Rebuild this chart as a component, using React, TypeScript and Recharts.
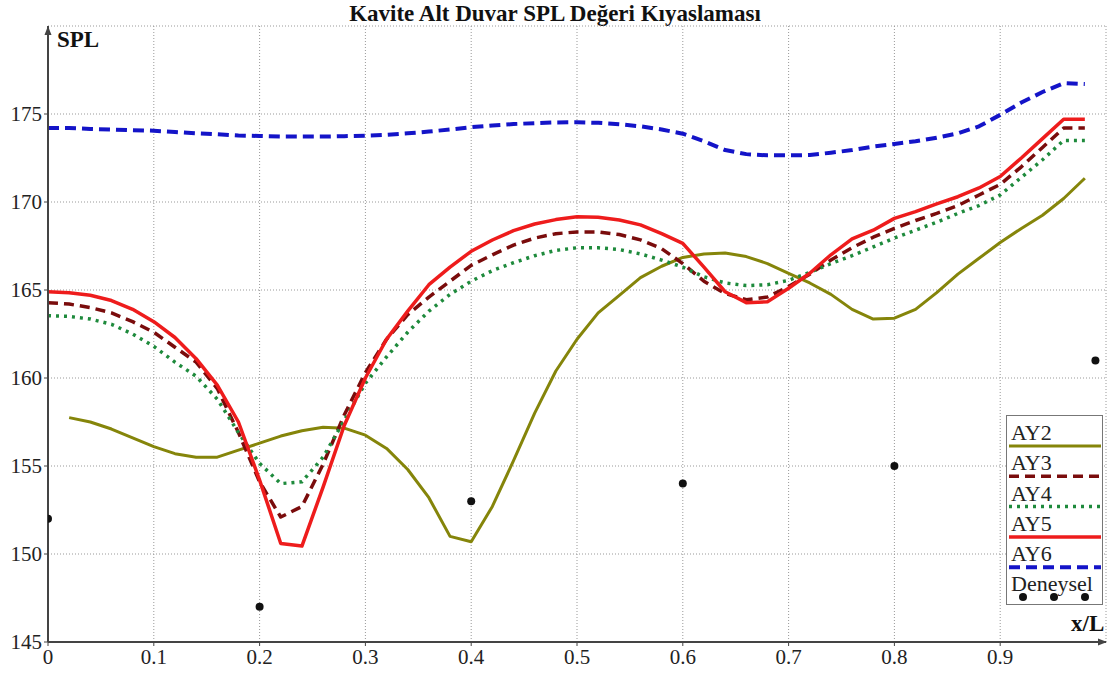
import { ComposedChart, Line, XAxis, YAxis, CartesianGrid, ReferenceDot } from "recharts"

// x/L sampling stations of the simulated profiles
const stations = [
  0, 0.02, 0.04, 0.06, 0.08, 0.1, 0.12, 0.14, 0.16, 0.18,
  0.2, 0.22, 0.24, 0.26, 0.28, 0.3, 0.32, 0.34, 0.36, 0.38,
  0.4, 0.42, 0.44, 0.46, 0.48, 0.5, 0.52, 0.54, 0.56, 0.58,
  0.6, 0.62, 0.64, 0.66, 0.68, 0.7, 0.72, 0.74, 0.76, 0.78,
  0.8, 0.82, 0.84, 0.86, 0.88, 0.9, 0.92, 0.94, 0.96, 0.98,
]

// AY2 has no value at x/L = 0, it starts at the second station
const ay2 = [
  157.75, 157.5, 157.1, 156.6, 156.1, 155.7, 155.5, 155.5, 155.9,
  156.3, 156.7, 157.0, 157.2, 157.15, 156.75, 156.0, 154.8, 153.2, 151.0,
  150.7, 152.7, 155.3, 158.0, 160.4, 162.2, 163.7, 164.7, 165.7, 166.35,
  166.85, 167.05, 167.1, 166.9, 166.5, 165.95, 165.4, 164.75, 163.9, 163.35,
  163.4, 163.9, 164.85, 165.9, 166.8, 167.7, 168.5, 169.25, 170.2, 171.35,
]

const ay3 = [
  164.28, 164.2, 164.0, 163.7, 163.2, 162.6, 161.75, 160.9, 159.4, 156.9,
  154.1, 152.1, 152.7, 155.1, 157.9, 160.3, 162.2, 163.6, 164.6, 165.5,
  166.4, 167.0, 167.55, 167.95, 168.2, 168.3, 168.3, 168.15, 167.85, 167.35,
  166.5, 165.5, 164.8, 164.45, 164.6, 165.2, 165.9, 166.7, 167.4, 168.0,
  168.5, 168.95, 169.35, 169.8, 170.4, 171.0, 172.0, 173.1, 174.2, 174.2,
]

const ay4 = [
  163.54, 163.5, 163.35, 163.05, 162.5, 161.8, 160.9, 160.1, 158.8, 156.9,
  155.15, 154.0, 154.1, 155.5, 157.6, 159.7, 161.2, 162.6, 163.8, 164.75,
  165.5, 166.1, 166.55, 166.95, 167.25, 167.4, 167.4, 167.3, 167.05, 166.7,
  166.3, 165.75, 165.4, 165.25, 165.3, 165.55, 166.0, 166.5, 166.95, 167.45,
  167.95, 168.4, 168.85, 169.35, 169.8, 170.4, 171.4, 172.4, 173.5, 173.5,
]

const ay5 = [
  164.9, 164.85, 164.7, 164.4, 163.9, 163.2, 162.3, 161.1, 159.6, 157.5,
  154.2, 150.6, 150.45, 153.8, 157.3, 160.0, 162.2, 163.8, 165.3, 166.3,
  167.2, 167.84, 168.37, 168.75, 169.0, 169.16, 169.13, 168.98, 168.7, 168.2,
  167.65, 166.3, 164.9, 164.28, 164.33, 165.1, 165.95, 167.0, 167.9, 168.4,
  169.07, 169.45, 169.89, 170.3, 170.8, 171.45, 172.5, 173.6, 174.7, 174.7,
]

const ay6 = [
  174.2, 174.2, 174.15, 174.12, 174.08, 174.05, 173.98, 173.9, 173.85, 173.78,
  173.75, 173.72, 173.72, 173.72, 173.74, 173.77, 173.82, 173.9, 174.0, 174.12,
  174.25, 174.35, 174.43, 174.48, 174.52, 174.53, 174.5, 174.42, 174.3, 174.12,
  173.88, 173.45, 172.95, 172.72, 172.65, 172.65, 172.67, 172.8, 172.95, 173.15,
  173.3, 173.45, 173.65, 173.9, 174.3, 174.95, 175.65, 176.25, 176.75, 176.7,
]

// measured values (Deneysel)
const expX = [0, 0.2, 0.4, 0.6, 0.8, 0.99]
const expSpl = [152, 147, 153, 154, 155, 161]

const xTicks = [0, 0.1, 0.2, 0.3, 0.4, 0.5, 0.6, 0.7, 0.8, 0.9]
const yTicks = [145, 150, 155, 160, 165, 170, 175]

const serif = "'Liberation Serif', Tinos, 'Times New Roman', 'DejaVu Serif', serif"

const toRows = (xs: number[], ys: number[]) => ys.map((y, i) => ({ x: xs[i], y }))

const series = [
  { name: "AY2", rows: toRows(stations.slice(1), ay2), color: "#85850a", width: 3, dash: undefined },
  { name: "AY3", rows: toRows(stations, ay3), color: "#7a0c0c", width: 3.5, dash: "10 6" },
  { name: "AY4", rows: toRows(stations, ay4), color: "#1e8a3c", width: 3.5, dash: "3 5" },
  { name: "AY5", rows: toRows(stations, ay5), color: "#ee1c1c", width: 3.5, dash: undefined },
  { name: "AY6", rows: toRows(stations, ay6), color: "#1414c8", width: 4, dash: "11 6" },
]

const expRows = toRows(expX, expSpl)

function ChartKey() {
  const rowGap = 30.3
  return (
    <div
      style={{
        position: "absolute",
        left: 1006,
        top: 415,
        width: 95,
        height: 188,
        border: "1px solid #777",
        background: "#fff",
      }}
    >
      <svg width={95} height={188}>
        {series.map((s, i) => (
          <g key={s.name}>
            <text x={4} y={24 + i * rowGap} fontFamily={serif} fontSize={22} fill="#222">
              {s.name}
            </text>
            <line
              x1={2}
              x2={94}
              y1={30 + i * rowGap}
              y2={30 + i * rowGap}
              stroke={s.color}
              strokeWidth={s.width}
              strokeDasharray={s.dash}
            />
          </g>
        ))}
        <text x={4} y={175} fontFamily={serif} fontSize={22} fill="#222">
          Deneysel
        </text>
        {[16, 47, 78].map((cx) => (
          <circle key={cx} cx={cx} cy={181} r={4} fill="#111" />
        ))}
      </svg>
    </div>
  )
}

export default function App() {
  return (
    <div
      style={{
        position: "absolute",
        left: 0,
        top: 0,
        width: 1110,
        height: 674,
        background: "#fff",
        fontFamily: serif,
      }}
    >
      <div
        style={{
          position: "absolute",
          left: 0,
          top: 0,
          width: 1110,
          textAlign: "center",
          fontWeight: "bold",
          fontSize: 23,
          lineHeight: "28px",
          color: "#111",
        }}
      >
        Kavite Alt Duvar SPL Değeri Kıyaslaması
      </div>

      <ComposedChart
        width={1110}
        height={674}
        margin={{ top: 26, right: 4, bottom: 0, left: 0 }}
        style={{ position: "absolute", left: 0, top: 0 }}
      >
        <CartesianGrid stroke="#999" strokeDasharray="1 2" strokeWidth={1} />
        <XAxis
          type="number"
          dataKey="x"
          domain={[0, 1]}
          ticks={xTicks}
          allowDataOverflow
          height={32}
          axisLine={{ stroke: "#444", strokeWidth: 2 }}
          tickLine={{ stroke: "#444" }}
          tickSize={4}
          tickMargin={3}
          tick={{ fontSize: 21, fill: "#222", fontFamily: serif }}
        />
        <YAxis
          type="number"
          domain={[145, 180]}
          ticks={yTicks}
          allowDataOverflow
          width={48}
          axisLine={{ stroke: "#444", strokeWidth: 2 }}
          tickLine={{ stroke: "#444" }}
          tickSize={4}
          tickMargin={2}
          tick={{ fontSize: 21, fill: "#222", fontFamily: serif }}
        />
        {series.map((s) => (
          <Line
            key={s.name}
            name={s.name}
            data={s.rows}
            dataKey="y"
            type="linear"
            stroke={s.color}
            strokeWidth={s.width}
            strokeDasharray={s.dash}
            strokeLinejoin="round"
            dot={false}
            activeDot={false}
            isAnimationActive={false}
          />
        ))}
        <Line
          name="Deneysel"
          data={expRows}
          dataKey="y"
          stroke="none"
          dot={{ r: 4, fill: "#111", stroke: "none" }}
          activeDot={false}
          isAnimationActive={false}
        />
        {/* axis arrow heads */}
        <ReferenceDot
          x={0}
          y={180}
          ifOverflow="visible"
          shape={(p: any) => (
            <path d={`M${p.cx - 3.5},${p.cy + 9} L${p.cx},${p.cy} L${p.cx + 3.5},${p.cy + 9} Z`} fill="#444" />
          )}
        />
        <ReferenceDot
          x={1}
          y={145}
          ifOverflow="visible"
          shape={(p: any) => (
            <path d={`M${p.cx - 8},${p.cy - 3.5} L${p.cx + 1},${p.cy} L${p.cx - 8},${p.cy + 3.5} Z`} fill="#444" />
          )}
        />
      </ComposedChart>

      <div
        style={{
          position: "absolute",
          left: 57,
          top: 26,
          fontWeight: "bold",
          fontSize: 23,
          lineHeight: "28px",
          color: "#111",
        }}
      >
        SPL
      </div>
      <div
        style={{
          position: "absolute",
          left: 1071,
          top: 610,
          fontWeight: "bold",
          fontSize: 23,
          lineHeight: "28px",
          color: "#111",
        }}
      >
        x/L
      </div>

      <ChartKey />
    </div>
  )
}
